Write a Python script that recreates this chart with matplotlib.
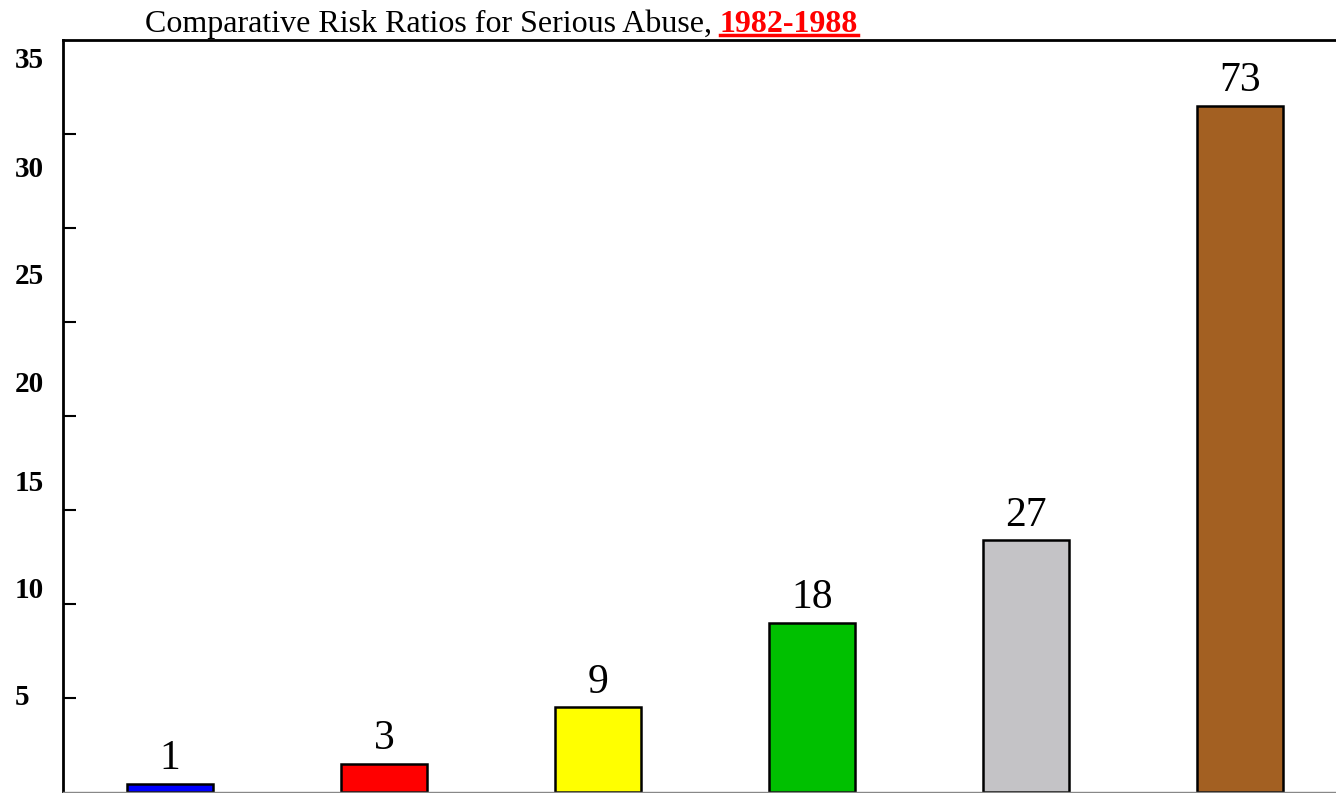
import matplotlib
matplotlib.use('Agg')
import matplotlib.pyplot as plt
from matplotlib.lines import Line2D
import matplotlib.transforms as mtransforms

# Values
categories = ['A', 'B', 'C', 'D', 'E', 'F']
bar_heights = [0.45, 1.5, 4.5, 9.0, 13.4, 36.5]
bar_labels = ['1', '3', '9', '18', '27', '73']
bar_colors = ['#0000ff', '#ff0000', '#ffff00', '#00c000', '#c4c3c6', '#a36022']
tick_values = [5, 10, 15, 20, 25, 30, 35]
tick_texts = ['5', '10', '15', '20', '25', '30', '35']
# the original draws its tick labels drifting away from the tick marks
tick_text_pos = [5.05, 10.7, 16.4, 21.7, 27.4, 33.1, 38.9]

plt.rcParams['font.family'] = ['Liberation Serif', 'DejaVu Serif']

W, H = 1336, 793
fig = plt.figure(figsize=(W / 100, H / 100), dpi=100)
ax = fig.add_axes([63 / W, 1 / H, 1 - 63 / W, (792 - 40) / H])

x = list(range(len(categories)))
ax.bar(x, bar_heights, width=0.40, color=bar_colors, edgecolor='black', linewidth=1.8, zorder=2)
for xi, h, lab in zip(x, bar_heights, bar_labels):
    ax.annotate(lab, (xi, h), xytext=(0, 4), textcoords='offset points',
                ha='center', va='bottom', fontsize=30)

ax.set_xlim(-0.5, 5.449)
ax.set_ylim(0, 40)
ax.set_xticks([])
ax.set_yticks(tick_values)
ax.set_yticklabels([])
ax.tick_params(axis='y', direction='in', length=9, width=1.5, color='black')

ax.spines['right'].set_visible(False)
ax.spines['top'].set_linewidth(2)
ax.spines['left'].set_linewidth(2)
ax.spines['bottom'].set_color('#888888')
ax.spines['bottom'].set_linewidth(1)

trans = mtransforms.blended_transform_factory(fig.transFigure, ax.transData)
for pos, txt in zip(tick_text_pos, tick_texts):
    ax.text(15 / W, pos, txt, transform=trans, ha='left', va='center',
            fontsize=21, fontweight='bold', clip_on=False)

t1 = fig.text(145 / W, 1 - 32 / H, 'Comparative Risk Ratios for Serious Abuse, ',
              ha='left', va='baseline', fontsize=23)
t2 = fig.text(0, 0, '1982-1988', ha='left', va='baseline', fontsize=23,
              fontweight='bold', color='#ff0000')
fig.canvas.draw()
r = fig.canvas.get_renderer()
bb1 = t1.get_window_extent(r)
t2.set_position((bb1.x1 / W, 1 - 32 / H))
fig.canvas.draw()
bb2 = t2.get_window_extent(r)
uy = 1 - 35 / H
fig.add_artist(Line2D([bb2.x0 / W, bb2.x1 / W], [uy, uy], color='#ff0000',
                      linewidth=2.5, transform=fig.transFigure))

fig.savefig('out.png', dpi=100)
